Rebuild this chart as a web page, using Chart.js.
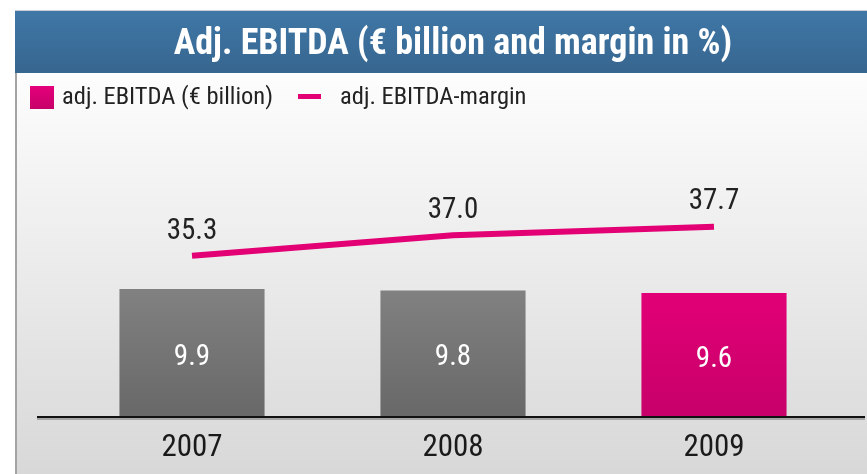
<!DOCTYPE html>
<html>
<head>
<meta charset="utf-8">
<script src="https://cdn.jsdelivr.net/npm/chart.js@4.4.0/dist/chart.umd.min.js"></script>
<style>
  html, body { margin: 0; padding: 0; background: #fff; }
  #wrap { position: relative; width: 867px; height: 474px; }
</style>
</head>
<body>
<div id="wrap"><canvas id="ebitda" width="867" height="474"></canvas></div>
<script>
// data
const years = ["2007", "2008", "2009"];
const ebitda = [9.9, 9.8, 9.6];          // € billion
const margin = [35.3, 37.0, 37.7];       // %
const ebitdaLabel = "adj. EBITDA (€ billion)";
const marginLabel = "adj. EBITDA-margin";
const titleText = "Adj. EBITDA (€ billion and margin in %)";

const FONT = "'Liberation Sans Narrow', 'Roboto Condensed', Roboto, sans-serif";
const MAGENTA = "#e20074";

// hintergrund, titelbalken, achse, legende
const frame = {
  id: "frame",
  beforeDraw(chart) {
    const c = chart.ctx;
    c.save();
    c.fillStyle = "#fff";
    c.fillRect(0, 0, 867, 474);
    // panel
    let g = c.createLinearGradient(0, 73, 0, 474);
    g.addColorStop(0, "#fdfdfd");
    g.addColorStop(1, "#d8d8d8");
    c.fillStyle = g;
    c.fillRect(15, 73, 852, 401);
    // linker rand
    c.fillStyle = "#a3a3a3";
    c.fillRect(15, 73, 2, 401);
    // titelbalken
    c.fillStyle = "#c9ced4";
    c.fillRect(15, 10, 852, 1);
    g = c.createLinearGradient(0, 11, 0, 73);
    g.addColorStop(0, "#3f77a7");
    g.addColorStop(1, "#37668f");
    c.fillStyle = g;
    c.fillRect(15, 11, 852, 62);
    c.restore();
  },
  afterDatasetsDraw(chart) {
    const c = chart.ctx;
    const y0 = chart.scales.y.getPixelForValue(0);
    c.save();
    // achse
    c.fillStyle = "rgba(0,0,0,0.25)";
    c.fillRect(37, y0 + 1, 828, 2);
    c.fillStyle = "#111";
    c.fillRect(37, y0 - 1, 828, 2);

    c.textAlign = "center";
    c.textBaseline = "middle";
    // jahre unter der achse
    c.font = "31px " + FONT;
    c.fillStyle = "#1a1a1a";
    years.forEach((yr, i) => {
      c.fillText(yr, chart.scales.x.getPixelForValue(i), y0 + 31);
    });

    c.font = "29px " + FONT;
    // werte in den balken
    const bars = chart.getDatasetMeta(0).data;
    bars.forEach((b, i) => {
      c.fillStyle = "#fff";
      c.fillText(ebitda[i].toFixed(1), b.x, (b.y + b.base) / 2 + 4.5);
    });
    // margen über der linie
    const pts = chart.getDatasetMeta(1).data;
    pts.forEach((p, i) => {
      c.fillStyle = "#222";
      c.fillText(margin[i].toFixed(1), p.x, p.y - 24.5);
    });

    // legende
    const ly = 97;
    let g = c.createLinearGradient(0, 86, 0, 109);
    g.addColorStop(0, "#e5007b");
    g.addColorStop(1, "#c60069");
    c.fillStyle = g;
    c.fillRect(30, 86, 24, 23);
    c.font = "24.5px " + FONT;
    c.textAlign = "left";
    c.fillStyle = "#222";
    c.fillText(chart.data.datasets[0].label, 62, ly + 1);
    c.fillStyle = MAGENTA;
    c.fillRect(298, ly - 3, 23, 5);
    c.fillStyle = "#222";
    c.fillText(chart.data.datasets[1].label, 340, ly + 1);
    c.restore();
  }
};

function barFill(ctx) {
  const chart = ctx.chart;
  const area = chart.chartArea;
  if (!area) return "#777";
  const top = chart.scales.y.getPixelForValue(9.9);
  const bottom = chart.scales.y.getPixelForValue(0);
  const g = chart.ctx.createLinearGradient(0, top, 0, bottom);
  if (ctx.dataIndex === 2) {
    g.addColorStop(0, "#e30077");
    g.addColorStop(1, "#c7006a");
  } else {
    g.addColorStop(0, "#818181");
    g.addColorStop(1, "#686868");
  }
  return g;
}

new Chart(document.getElementById("ebitda"), {
  data: {
    labels: years,
    datasets: [
      {
        type: "bar",
        label: ebitdaLabel,
        data: ebitda,
        yAxisID: "y",
        backgroundColor: barFill,
        categoryPercentage: 1,
        barPercentage: 0.556,
        order: 2
      },
      {
        type: "line",
        label: marginLabel,
        data: margin,
        yAxisID: "y2",
        borderColor: MAGENTA,
        borderWidth: 6,
        pointRadius: 0,
        tension: 0,
        order: 1
      }
    ]
  },
  options: {
    responsive: false,
    animation: false,
    layout: { padding: { left: 61.5, right: 22.5, top: 0, bottom: 57 } },
    plugins: {
      legend: { display: false },
      tooltip: { enabled: false },
      title: {
        display: true,
        text: titleText,
        color: "#fff",
        font: { family: FONT, size: 36, weight: "bold" },
        padding: { top: 23.5, bottom: 73.3 }
      }
    },
    scales: {
      x: {
        offset: true,
        grid: { display: false, drawTicks: false },
        border: { display: false },
        ticks: { display: false }
      },
      y: { display: false, min: 0, max: 21.44 },
      y2: { display: false, min: 22.06, max: 44.82 }
    }
  },
  plugins: [frame]
});
</script>
</body>
</html>
